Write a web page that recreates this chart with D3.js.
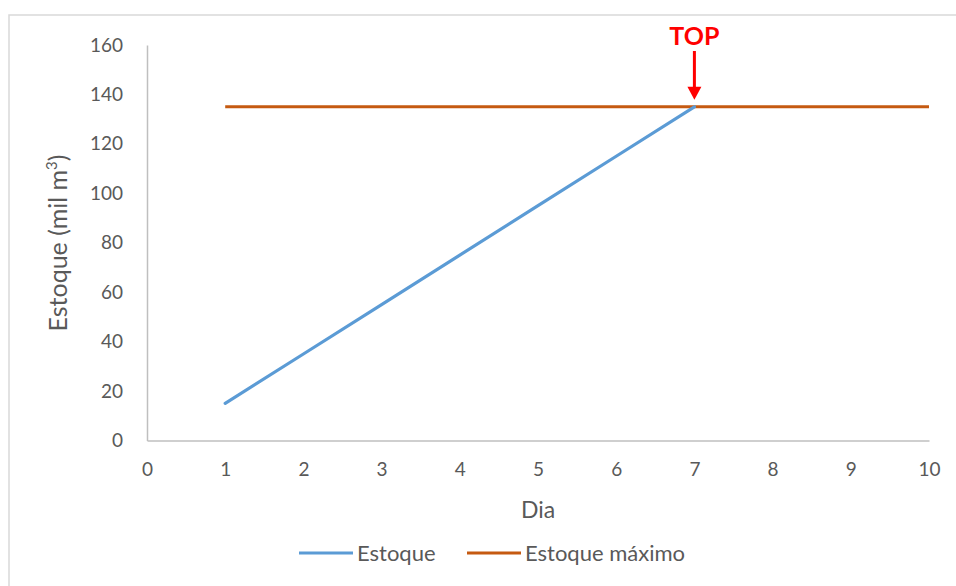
<!DOCTYPE html>
<html>
<head>
<meta charset="utf-8">
<script src="https://cdn.jsdelivr.net/npm/d3@7"></script>
<style>
  html, body { margin: 0; padding: 0; background: #fff; }
  svg { display: block; font-family: Lato, "Open Sans", sans-serif; }
</style>
</head>
<body>
<svg id="chart" width="956" height="586"></svg>
<script>
// Stock level by day
const days = [1, 2, 3, 4, 5, 6, 7];
const estoque = [15, 35, 55, 75, 95, 115, 135];
// Maximum stock capacity
const maxDays = [1, 10];
const estoqueMaximo = [135, 135];
const xTicks = [0, 1, 2, 3, 4, 5, 6, 7, 8, 9, 10];
const yTicks = [0, 20, 40, 60, 80, 100, 120, 140, 160];
const seriesNames = ["Estoque", "Estoque máximo"];
const topDay = 7;

const svg = d3.select("#chart");
const blue = "#5B9BD5", orange = "#C55A11", axisColor = "#BFBFBF", textColor = "#595959";

// chart area frame
svg.append("rect").attr("x", 9).attr("y", 15).attr("width", 1000).attr("height", 1000)
  .attr("fill", "none").attr("stroke", "#D9D9D9").attr("stroke-width", 1.5);

const x = d3.scaleLinear().domain([0, 10]).range([147, 929]);
const y = d3.scaleLinear().domain([0, 160]).range([440.5, 45]);

// axes
const xAxis = svg.append("g").attr("transform", `translate(0,${y(0)})`)
  .call(d3.axisBottom(x).tickValues(xTicks).tickSize(0).tickPadding(22).tickFormat(d3.format("d")));
const yAxis = svg.append("g").attr("transform", `translate(${x(0)},0)`)
  .call(d3.axisLeft(y).tickValues(yTicks).tickSize(0).tickPadding(24).tickFormat(d3.format("d")));
[xAxis, yAxis].forEach(a => {
  a.select(".domain").attr("stroke", axisColor).attr("stroke-width", 1.5);
  a.selectAll("text").attr("fill", textColor).attr("font-size", 19).attr("font-family", "Lato, sans-serif");
});

// axis titles
svg.append("text").attr("x", x(5)).attr("y", 518).attr("text-anchor", "middle")
  .attr("fill", textColor).attr("font-size", 23).text("Dia");
const yt = svg.append("text").attr("transform", `translate(67,${243}) rotate(-90)`)
  .attr("text-anchor", "middle").attr("fill", textColor).attr("font-size", 25);
yt.append("tspan").text("Estoque (mil m");
yt.append("tspan").attr("font-size", 15).attr("dy", -10).text("3");
yt.append("tspan").attr("dy", 10).text(")");

// lines
const line = d3.line().x(d => x(d[0])).y(d => y(d[1]));
svg.append("path").datum(maxDays.map((d, i) => [d, estoqueMaximo[i]]))
  .attr("d", line).attr("fill", "none").attr("stroke", orange).attr("stroke-width", 3);
svg.append("path").datum(days.map((d, i) => [d, estoque[i]]))
  .attr("d", line).attr("fill", "none").attr("stroke", blue).attr("stroke-width", 3.2)
  .attr("stroke-linecap", "round");

// TOP annotation
const topVal = estoque[days.indexOf(topDay)];
svg.append("text").attr("x", x(topDay)).attr("y", 45).attr("text-anchor", "middle")
  .attr("fill", "#FF0000").attr("font-weight", "bold").attr("font-size", 25).text("TOP");
svg.append("line").attr("x1", x(topDay)).attr("x2", x(topDay)).attr("y1", 51).attr("y2", y(topVal) - 18)
  .attr("stroke", "#FF0000").attr("stroke-width", 3);
svg.append("path")
  .attr("d", `M${x(topDay) - 7},${y(topVal) - 20} L${x(topDay) + 7},${y(topVal) - 20} L${x(topDay)},${y(topVal) - 7} Z`)
  .attr("fill", "#FF0000");

// legend
const legend = [
  { name: seriesNames[0], color: blue, x1: 299 },
  { name: seriesNames[1], color: orange, x1: 467 }
];
legend.forEach(l => {
  svg.append("line").attr("x1", l.x1).attr("x2", l.x1 + 54).attr("y1", 553).attr("y2", 553)
    .attr("stroke", l.color).attr("stroke-width", 3);
  svg.append("text").attr("x", l.x1 + 58).attr("y", 561).attr("fill", textColor)
    .attr("font-size", 22).text(l.name);
});
</script>
</body>
</html>
